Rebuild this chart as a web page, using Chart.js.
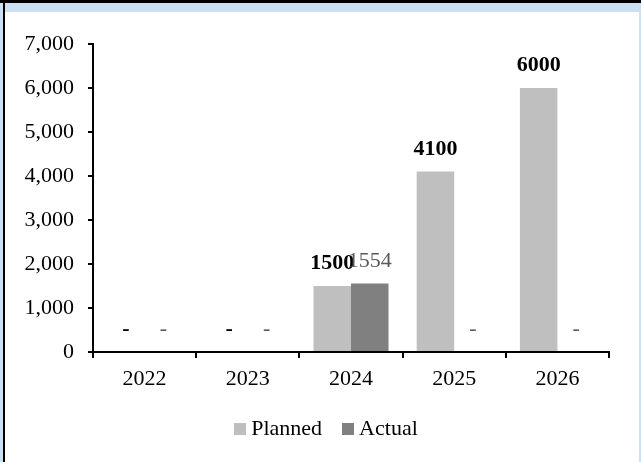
<!DOCTYPE html>
<html><head><meta charset="utf-8">
<script src="https://cdn.jsdelivr.net/npm/chart.js@4"></script>
<style>
html,body{margin:0;padding:0;width:641px;height:462px;overflow:hidden;background:#CCE0F4;}
#topline{position:absolute;left:0;top:0;width:641px;height:3px;background:#000;}
#leftline{position:absolute;left:3px;top:0;width:2px;height:462px;background:#000;}
#panel{position:absolute;left:5px;top:12px;width:634px;height:450px;background:#fff;}
canvas{display:block;}
</style></head><body>
<div id="topline"></div><div id="leftline"></div>
<div id="panel"><canvas id="c" width="634" height="450"></canvas></div>
<script>
const categories = ['2022', '2023', '2024', '2025', '2026'];
const seriesNames = ['Planned', 'Actual'];
const plannedValues = [0, 0, 1500, 4100, 6000];
const actualValues = [0, 0, 1554, 0, 0];
const yMin = 0;
const yMax = 7000;
const yStep = 1000;

const seriesColors = ['#BFBFBF', '#808080'];
const FONT = '"Liberation Serif", "Times New Roman", serif';
Chart.defaults.font.family = FONT;
Chart.defaults.font.size = 22;
Chart.defaults.color = '#000';

function makeSwatch(color) {
  const c = document.createElement('canvas');
  c.width = 12; c.height = 12;
  const g = c.getContext('2d');
  g.fillStyle = color;
  g.fillRect(0, 0, 12, 12);
  return c;
}
const swatches = seriesColors.map(makeSwatch);

const valueLabels = {
  id: 'valueLabels',
  afterDatasetsDraw(chart) {
    const ctx = chart.ctx;
    chart.data.datasets.forEach((ds, i) => {
      const meta = chart.getDatasetMeta(i);
      meta.data.forEach((bar, j) => {
        const v = ds.data[j];
        const txt = v === 0 ? '-' : String(v);
        ctx.save();
        ctx.font = (i === 0 ? 'bold ' : '') + '22px ' + FONT;
        ctx.fillStyle = i === 0 ? '#000000' : '#595959';
        ctx.textAlign = 'center';
        ctx.textBaseline = 'alphabetic';
        ctx.fillText(txt, bar.x, bar.y - 17);
        ctx.restore();
      });
    });
  }
};

new Chart(document.getElementById('c'), {
  type: 'bar',
  data: {
    labels: categories,
    datasets: [
      { label: seriesNames[0], data: plannedValues, backgroundColor: seriesColors[0], borderWidth: 0 },
      { label: seriesNames[1], data: actualValues, backgroundColor: seriesColors[1], borderWidth: 0 }
    ]
  },
  options: {
    responsive: false,
    animation: false,
    events: [],
    datasets: { bar: { categoryPercentage: 0.727, barPercentage: 1.0 } },
    layout: { padding: { top: 32, right: 0, left: 13, bottom: 12 } },
    plugins: {
      tooltip: { enabled: false },
      legend: {
        position: 'bottom',
        labels: {
          usePointStyle: true,
          pointStyleWidth: 1,
          boxHeight: 12,
          padding: 25,
          color: '#000',
          font: { size: 22 },
          generateLabels(chart) {
            const items = Chart.defaults.plugins.legend.labels.generateLabels(chart);
            items.forEach((it, i) => { it.pointStyle = swatches[i]; it.lineWidth = 0; });
            return items;
          }
        }
      }
    },
    scales: {
      x: {
        grid: { drawOnChartArea: false, drawTicks: true, tickLength: 6, color: '#000', lineWidth: 2 },
        border: { color: '#000', width: 2 },
        ticks: { color: '#000', padding: 8, font: { size: 22 } },
        afterFit(s) { s.height = 41; }
      },
      y: {
        min: yMin, max: yMax,
        grid: { drawOnChartArea: false, drawTicks: true, tickLength: 5, color: '#000', lineWidth: 2 },
        border: { color: '#000', width: 2 },
        ticks: { stepSize: yStep, color: '#000', padding: 14, font: { size: 22 } },
        afterFit(s) { s.width = 75; }
      },
      ySpacer: {
        position: 'right',
        display: true,
        grid: { display: false, drawTicks: false },
        border: { display: false },
        ticks: { display: false },
        afterFit(s) { s.width = 30; }
      }
    }
  },
  plugins: [valueLabels]
});
</script>
</body></html>
